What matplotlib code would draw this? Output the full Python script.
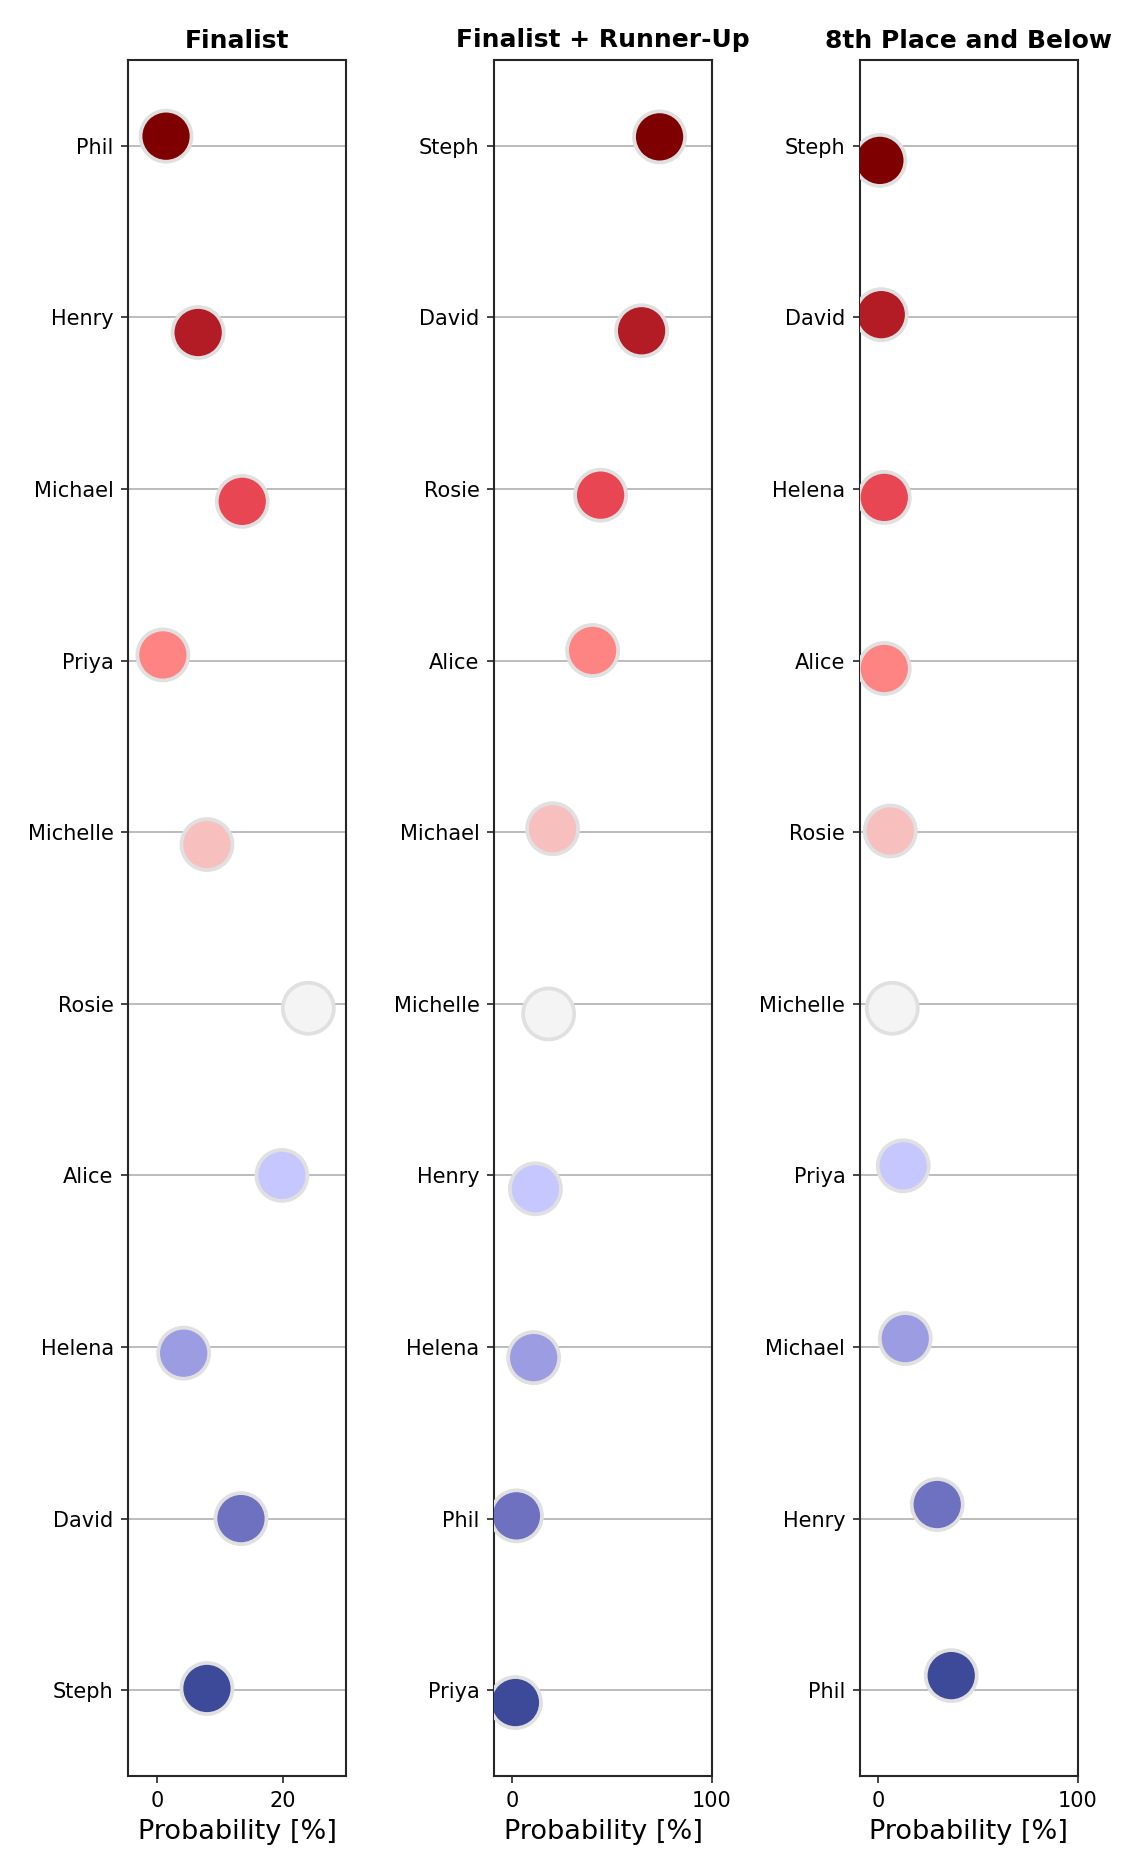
import numpy as np
import matplotlib
matplotlib.use("Agg")
import matplotlib.pyplot as plt

# --- data ---
titles = ["Finalist", "Finalist + Runner-Up", "8th Place and Below"]

names_finalist = ["Phil", "Henry", "Michael", "Priya", "Michelle",
                  "Rosie", "Alice", "Helena", "David", "Steph"]
prob_finalist = [1.4, 6.5, 13.5, 0.9, 7.9, 24.0, 19.8, 4.2, 13.3, 7.9]
jit_finalist = [-0.056, 0.088, 0.072, -0.033, 0.072, 0.026, 0.0, 0.036, 0.0, -0.01]

names_runner = ["Steph", "David", "Rosie", "Alice", "Michael",
                "Michelle", "Henry", "Helena", "Phil", "Priya"]
prob_runner = [73.8, 64.8, 44.3, 40.3, 20.3, 18.3, 11.7, 10.8, 2.2, 1.7]
jit_runner = [-0.052, 0.078, 0.036, -0.059, -0.02, 0.059, 0.078, 0.062, -0.016, 0.072]

names_bottom = ["Steph", "David", "Helena", "Alice", "Rosie",
                "Michelle", "Priya", "Michael", "Henry", "Phil"]
prob_bottom = [1.0, 1.7, 3.2, 3.2, 6.2, 7.2, 12.7, 13.7, 29.7, 36.7]
jit_bottom = [0.085, -0.016, 0.049, 0.046, -0.007, 0.026, -0.056, -0.049, -0.082, -0.085]

palette = ["#7f0000", "#b31b25", "#e84652", "#fe8383", "#f8bfbf",
           "#f4f4f4", "#c7c7ff", "#9c9ce3", "#6e70c0", "#3d4a99"]

panels = [
    (names_finalist, prob_finalist, jit_finalist, (-4.6, 30.0), [0, 20]),
    (names_runner, prob_runner, jit_runner, (-9, 100), [0, 100]),
    (names_bottom, prob_bottom, jit_bottom, (-9, 100), [0, 100]),
]

plt.rcParams["font.family"] = "DejaVu Sans"
fig, axes = plt.subplots(1, 3, figsize=(7.5, 12.5), dpi=150)
fig.subplots_adjust(left=0.114, right=0.958, top=0.968, bottom=0.0528, wspace=0.679)

for ax, title, (names, probs, jit, xlim, xt) in zip(axes, titles, panels):
    pos = np.arange(len(names))
    ax.set_axisbelow(True)
    ax.scatter(probs, pos + np.array(jit), s=600, c=palette,
               edgecolors="#e0e0e0", linewidths=1.8, zorder=3)
    ax.set_yticks(pos)
    ax.set_yticklabels(names, fontsize=10)
    ax.set_ylim(len(names) - 0.5, -0.5)
    ax.set_xlim(*xlim)
    ax.set_xticks(xt)
    ax.tick_params(axis="x", labelsize=10)
    ax.grid(axis="y", color="#b0b0b0", linewidth=0.8)
    ax.set_title(title, fontsize=12, fontweight="bold")
    ax.set_xlabel("Probability [%]", fontsize=13)
    for sp in ax.spines.values():
        sp.set_color("#262626")
        sp.set_linewidth(1.0)
    ax.tick_params(color="#262626")

fig.savefig("out.png", dpi=150)
